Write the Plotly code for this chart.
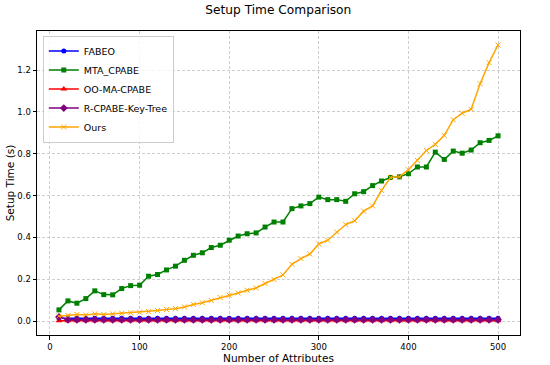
import plotly.graph_objects as go

attrs = list(range(10, 501, 10))

fabeo = [0.014] * 50
mta_cpabe = [0.054, 0.097, 0.086, 0.108, 0.145, 0.127, 0.126, 0.156, 0.170, 0.172,
             0.215, 0.223, 0.245, 0.263, 0.291, 0.315, 0.327, 0.352, 0.363, 0.387,
             0.407, 0.418, 0.422, 0.450, 0.474, 0.474, 0.538, 0.551, 0.562, 0.593,
             0.581, 0.581, 0.573, 0.609, 0.619, 0.648, 0.670, 0.687, 0.690, 0.705,
             0.737, 0.737, 0.808, 0.773, 0.813, 0.803, 0.818, 0.853, 0.864, 0.886]
oo_ma_cpabe = [0.002] * 50
r_cpabe = [0.020] + [0.007] * 49
ours = [0.024, 0.027, 0.032, 0.029, 0.035, 0.032, 0.035, 0.038, 0.040, 0.043,
        0.046, 0.051, 0.056, 0.060, 0.068, 0.080, 0.088, 0.099, 0.113, 0.124,
        0.135, 0.148, 0.159, 0.180, 0.199, 0.221, 0.272, 0.299, 0.321, 0.369,
        0.387, 0.426, 0.462, 0.480, 0.526, 0.551, 0.625, 0.687, 0.690, 0.724,
        0.768, 0.816, 0.845, 0.888, 0.963, 0.994, 1.013, 1.135, 1.236, 1.320]

series = [
    ("FABEO", fabeo, "#0000ff", "circle", 5),
    ("MTA_CPABE", mta_cpabe, "#008000", "square", 5),
    ("OO-MA-CPABE", oo_ma_cpabe, "#ff0000", "triangle-up", 6),
    ("R-CPABE-Key-Tree", r_cpabe, "#800080", "diamond", 6),
    ("Ours", ours, "#ffa500", "x-thin", 5),
]

fig = go.Figure()
for name, vals, color, sym, size in series:
    marker = dict(symbol=sym, size=size, color=color)
    if sym == "x-thin":
        marker["line"] = dict(color=color, width=1)
    fig.add_trace(go.Scatter(x=attrs, y=vals, name=name, mode="lines+markers",
                             line=dict(color=color, width=1.5), marker=marker))

axis_common = dict(showline=True, linecolor="black", linewidth=1, mirror=True,
                   ticks="outside", ticklen=3.5, tickcolor="black", automargin=False,
                   showgrid=True, gridcolor="#cfcfcf", griddash="3px,2px", gridwidth=0.8,
                   zeroline=False, tickfont=dict(family="DejaVu Sans", size=8.5, color="black"))

fig.update_layout(
    width=550, height=365,
    margin=dict(l=37, r=30, t=31, b=30),
    paper_bgcolor="white", plot_bgcolor="white",
    font=dict(family="DejaVu Sans", color="black"),
    title=dict(text="Setup Time Comparison", x=0.506, xanchor="center", y=0.972, yanchor="middle",
               font=dict(size=12.2)),
    xaxis=dict(range=[-14.5, 524.5], tickmode="array", tickvals=[0, 100, 200, 300, 400, 500],
               title=dict(text="Number of Attributes", font=dict(size=10.5), standoff=3), **axis_common),
    yaxis=dict(range=[-0.066, 1.387], tickmode="array",
               tickvals=[0.0, 0.2, 0.4, 0.6, 0.8, 1.0, 1.2], tickformat=".1f",
               title=dict(text="Setup Time (s)", font=dict(size=10.5), standoff=0), **axis_common),
    legend=dict(x=0.012, y=0.985, xanchor="left", yanchor="top", bgcolor="rgba(255,255,255,0.8)",
                bordercolor="#cccccc", borderwidth=1, font=dict(size=9.5), tracegroupgap=0,
                itemwidth=30),
    showlegend=True,
)

fig.write_html("out.html", config={"displayModeBar": False},
               post_script="document.body.style.margin='0';document.body.style.padding='0';")
